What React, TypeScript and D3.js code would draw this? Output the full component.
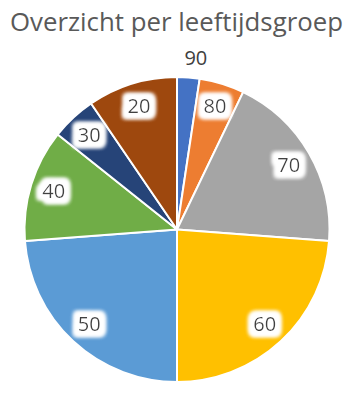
import React from "react";
import * as d3 from "d3";

const categories = ["90", "80", "70", "60", "50", "40", "30", "20"];
const values = [2, 4, 16, 20, 20, 10, 4, 8];
const colors = ["#4472C4", "#ED7D31", "#A5A5A5", "#FFC000", "#5B9BD5", "#70AD47", "#264478", "#9E480E"];
const outsideLabels = ["90"];
const title = "Overzicht per leeftijdsgroep";

const W = 356;
const H = 395;
const cx = 177;
const cy = 229.5;
const R = 152.5;

export default function App() {
  const pie = d3.pie<number>().sort(null).value((d) => d)(values);
  const arc = d3.arc<d3.PieArcDatum<number>>().innerRadius(0).outerRadius(R);
  const labelArc = d3.arc<d3.PieArcDatum<number>>().innerRadius(129).outerRadius(129);
  const outArc = d3.arc<d3.PieArcDatum<number>>().innerRadius(172).outerRadius(172);

  return (
    <svg
      width={W}
      height={H}
      style={{ position: "absolute", left: 0, top: 0, background: "#fff" }}
      fontFamily="'Open Sans', 'DejaVu Sans', sans-serif"
    >
      <defs>
        <filter id="glow" x="-50%" y="-50%" width="200%" height="200%">
          <feMorphology in="SourceAlpha" operator="dilate" radius="4.5" result="d" />
          <feGaussianBlur in="d" stdDeviation="2.2" result="b" />
          <feFlood floodColor="#ffffff" result="w" />
          <feComposite in="w" in2="b" operator="in" result="g" />
          <feMerge>
            <feMergeNode in="g" />
            <feMergeNode in="g" />
            <feMergeNode in="g" />
            <feMergeNode in="SourceGraphic" />
          </feMerge>
        </filter>
      </defs>
      <text x={176.5} y={30.5} textAnchor="middle" fontSize={26} fill="#595959" textLength={333} lengthAdjust="spacingAndGlyphs">
        {title}
      </text>
      <g transform={`translate(${cx},${cy})`}>
        {pie.map((p, i) => (
          <path key={i} d={arc(p) || ""} fill={colors[i]} stroke="#fff" strokeWidth={2} strokeLinejoin="round" />
        ))}
        {pie.map((p, i) => {
          const outside = outsideLabels.includes(categories[i]);
          const [x, y] = outside ? outArc.centroid(p) : labelArc.centroid(p);
          return (
            <text
              key={"l" + i}
              x={x + (outside ? 6 : 0)}
              y={y}
              dy="0.35em"
              textAnchor="middle"
              fontSize={20}
              fill="#404040"
              filter={outside ? undefined : "url(#glow)"}
            >
              {categories[i]}
            </text>
          );
        })}
      </g>
    </svg>
  );
}
